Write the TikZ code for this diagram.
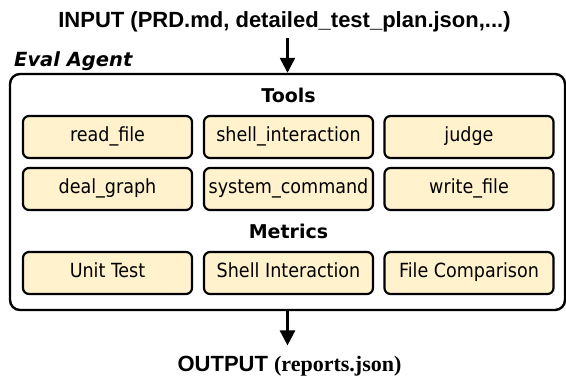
\documentclass[tikz,border=0pt]{standalone}
\usepackage{fontspec}
\usepackage{tikz}
\usetikzlibrary{arrows.meta, positioning}
\newfontfamily\headfont{Liberation Sans}
\newfontfamily\timesfont{Liberation Serif}
\newfontfamily\verdfont{DejaVu Sans}
\newfontfamily\tahomafont{DejaVu Sans Condensed}
\definecolor{toolfill}{HTML}{FFF2CC}

\begin{document}
\begin{tikzpicture}[
    x=1pt, y=-1pt,
    tool/.style={rectangle, draw, line width=2.2pt, rounded corners=6pt, fill=toolfill, minimum width=169pt, minimum height=42pt, inner sep=0pt, text height=1.1em, text depth=0.2em, font=\tahomafont\fontsize{19.5}{21}\selectfont},
    agentbox/.style={rectangle, draw, line width=2.4pt, rounded corners=10pt, minimum width=555pt, minimum height=236pt, inner sep=0pt},
    heading/.style={font=\verdfont\bfseries\fontsize{19}{21}\selectfont, inner sep=0pt, anchor=base},
    io/.style={font=\headfont\bfseries\fontsize{22}{24}\selectfont, inner sep=0pt, anchor=base},
    arrow/.style={-{Triangle[length=15pt, width=15pt]}, line width=2.4pt}
]
    \useasboundingbox (0,0) rectangle (566,381);

    % Input
    \node[io] (input) at (284.5,27) {INPUT (PRD.md, detailed\_test\_plan.json,...)};

    % Agent frame
    \node[agentbox] (agent) at (287.5,192) {};
    \node[font=\verdfont\bfseries\itshape\fontsize{19.5}{21}\selectfont, anchor=base west, inner sep=0pt] (title) at (14,66) {Eval Agent};

    % Tools
    \node[heading] (tools) at (288.5,102) {Tools};
    \node[tool] (read) at (107.5,137) {read\_file};
    \node[tool] (shell) at (288.5,137) {shell\_interaction};
    \node[tool] (judge) at (469,137) {judge};
    \node[tool] (graph) at (107.5,189) {deal\_graph};
    \node[tool] (system) at (288.5,189) {system\_command};
    \node[tool] (write) at (469,189) {write\_file};

    % Metrics
    \node[heading] (metrics) at (288.5,238) {Metrics};
    \node[tool] (unit) at (107.5,273) {Unit Test};
    \node[tool] (shellint) at (288.5,273) {Shell Interaction};
    \node[tool] (compare) at (469,273) {File Comparison};

    % Output
    \node[io] (output) at (289.5,371) {OUTPUT {\timesfont (reports.json)}};

    % Arrows
    \draw[arrow, shorten <=6pt] (agent.north |- input.south) -- (agent.north);
    \draw[arrow, shorten >=10pt] (agent.south) -- (agent.south |- output.north);

\end{tikzpicture}
\end{document}
